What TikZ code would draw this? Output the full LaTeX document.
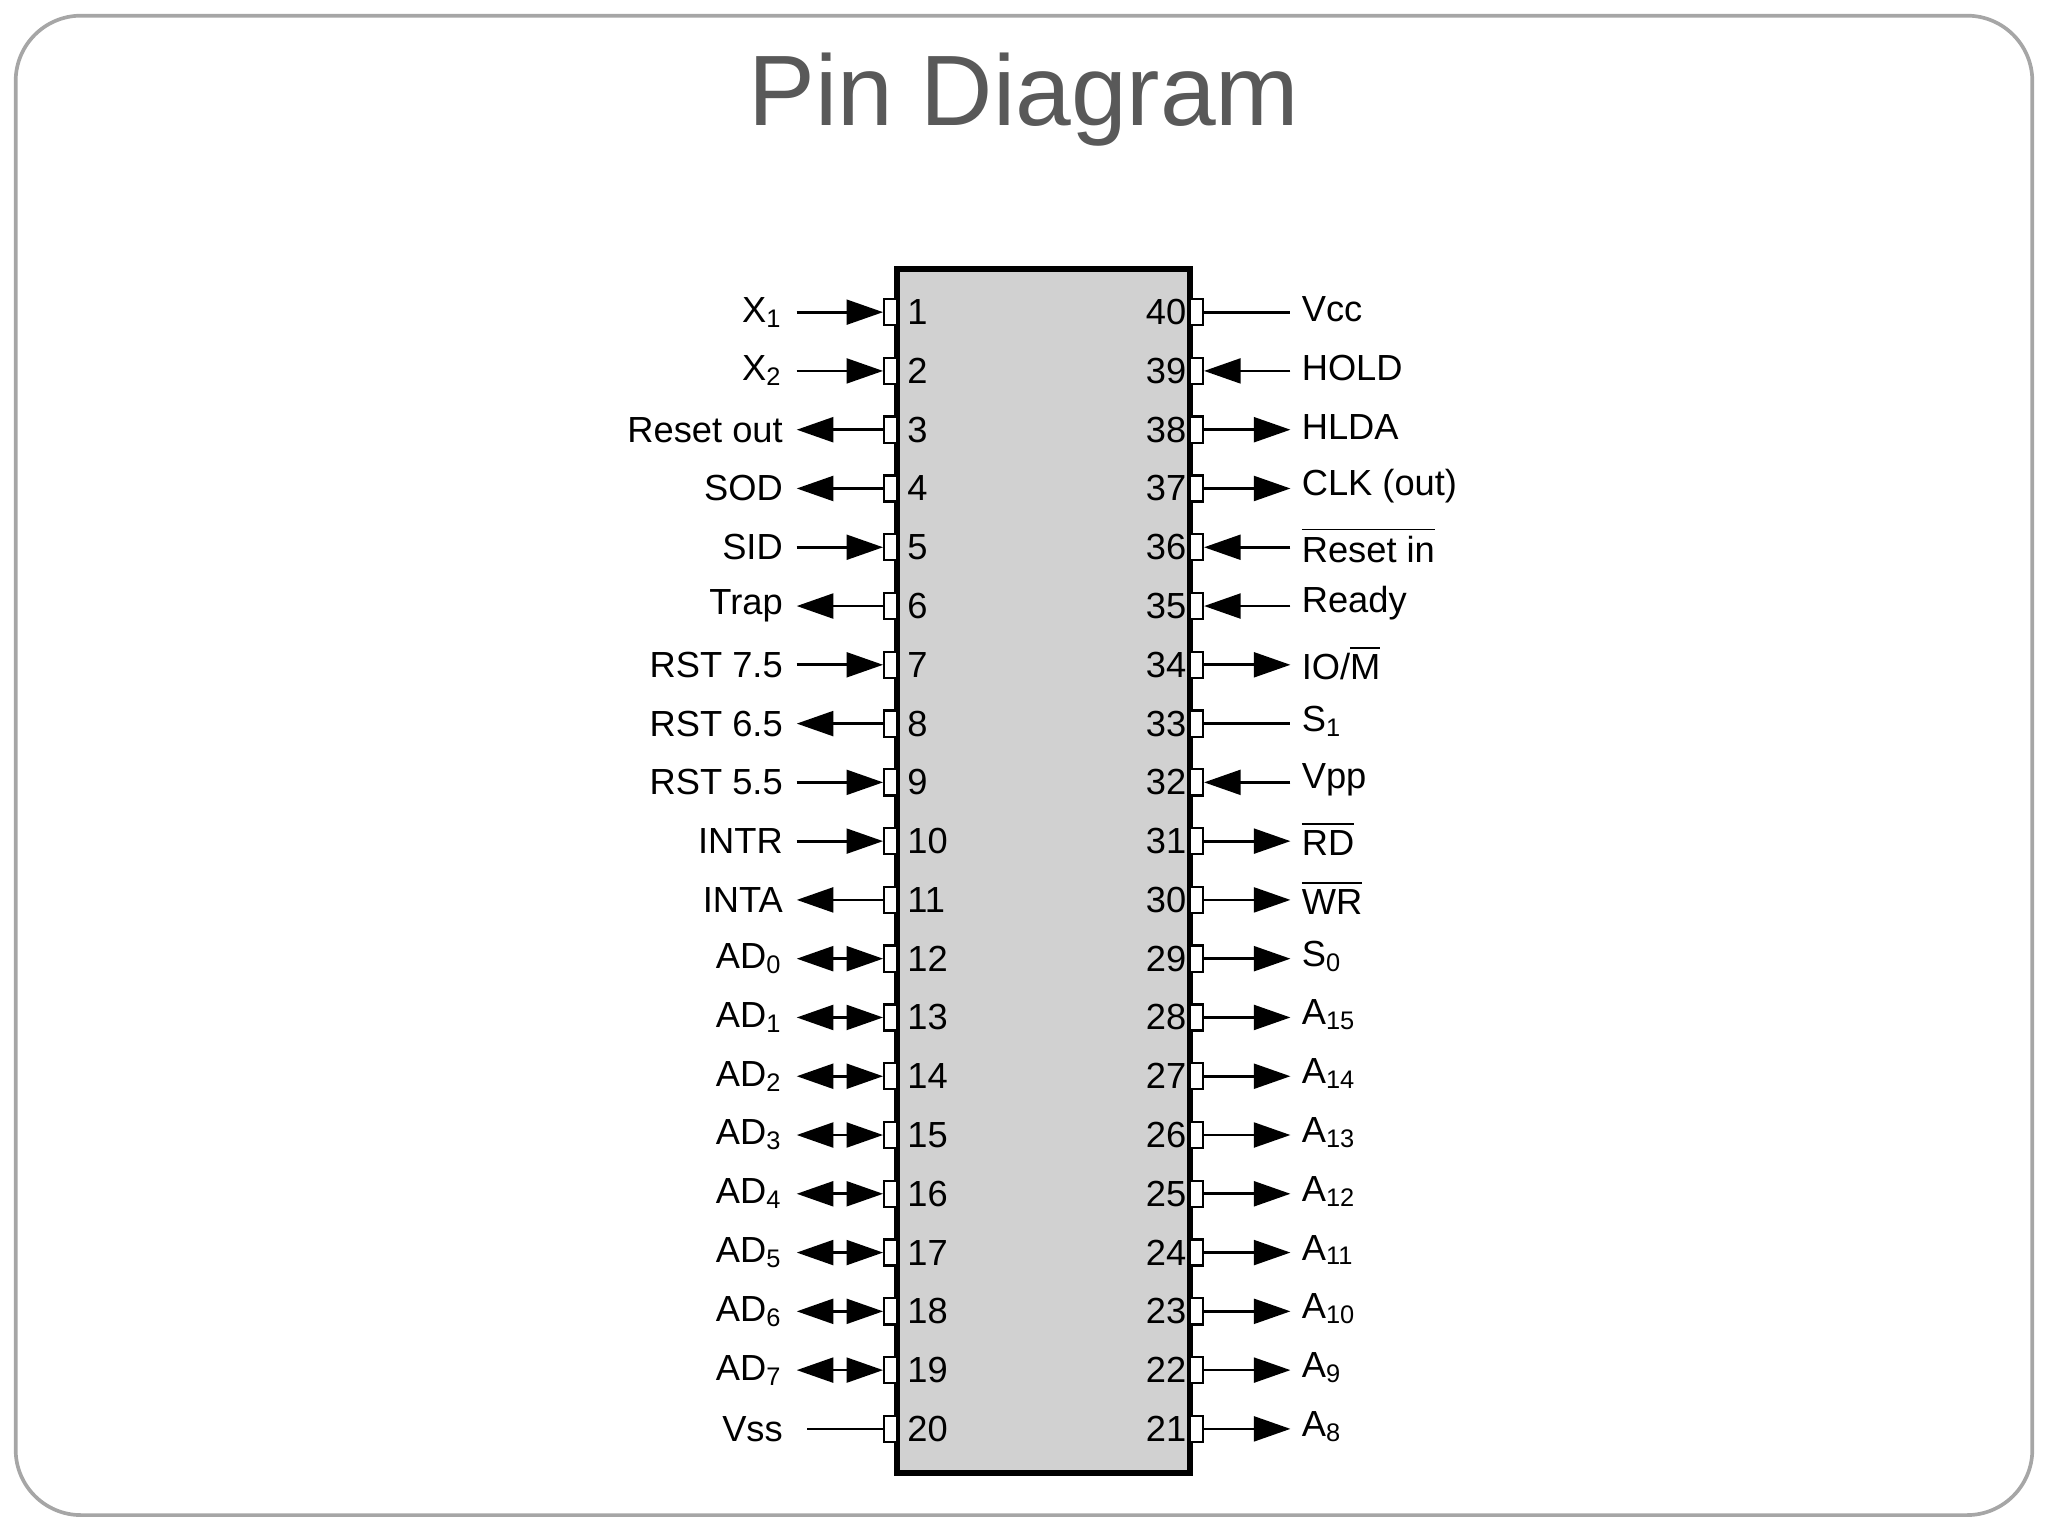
\documentclass[tikz,border=0pt]{standalone}
\usepackage{fontspec}
\setmainfont{Liberation Sans}
\usetikzlibrary{arrows.meta}
\newcommand{\sbs}[1]{\textsubscript{#1}}
\newcommand{\ovl}[1]{$\overline{\mbox{#1}}$}
\begin{document}
\begin{tikzpicture}[x=0.01cm,y=-0.01cm,
  lbl/.style={font=\fontsize{7.9}{9}\selectfont,inner sep=0pt},
  pinbox/.style={draw,line width=0.5pt,fill=white,minimum width=0.1cm,minimum height=0.2cm,inner sep=0pt},
  tip/.style={-{Triangle[length=0.28cm,width=0.19cm]}},
  both/.style={{Triangle[length=0.28cm,width=0.19cm]}-{Triangle[length=0.28cm,width=0.19cm]}},
  wire/.style={line width=0.6pt}]
\useasboundingbox (0,0) rectangle (1568,1176);
\draw[gray!70,line width=0.8pt,rounded corners=0.5cm] (12,12) rectangle (1556,1160);
\node[font=\fontsize{21.8}{26}\selectfont,text=black!65] (title) at (784,76) {Pin Diagram};
\draw[line width=1.3pt,fill=black!18] (687,206) rectangle (911,1128);
\foreach \n/\t/\k in {1/{X\sbs{1}}/i,2/{X\sbs{2}}/i,3/Reset out/o,4/SOD/o,5/SID/i,6/Trap/o,7/RST 7.5/i,8/RST 6.5/o,9/RST 5.5/i,10/INTR/i,11/INTA/o,12/{AD\sbs{0}}/b,13/{AD\sbs{1}}/b,14/{AD\sbs{2}}/b,15/{AD\sbs{3}}/b,16/{AD\sbs{4}}/b,17/{AD\sbs{5}}/b,18/{AD\sbs{6}}/b,19/{AD\sbs{7}}/b,20/Vss/n}{
  \pgfmathsetmacro{\yy}{239+(\n-1)*45}
  \node[pinbox] (lb\n) at (682,\yy) {};
  \node[lbl,anchor=west] (ln\n) at (694,\yy) {\n};
  \node[lbl,anchor=east] (ll\n) at (600,\yy) {\t};
  \coordinate (lw\n) at (610,\yy);
  \coordinate (lv\n) at (618,\yy);
  \if\k i \draw[wire,tip] (lw\n) -- (lb\n.west);\fi
  \if\k o \draw[wire,tip] (lb\n.west) -- (lw\n);\fi
  \if\k b \draw[wire,both] (lw\n) -- (lb\n.west);\fi
  \if\k n \draw[wire] (lv\n) -- (lb\n.west);\fi
}
\foreach \n/\t/\k in {40/Vcc/n,39/HOLD/i,38/HLDA/o,37/CLK (out)/o,36/{\ovl{Reset in}}/i,35/Ready/i,34/{IO/\ovl{M}}/o,33/{S\sbs{1}}/n,32/Vpp/i,31/{\ovl{RD}}/o,30/{\ovl{WR}}/o,29/{S\sbs{0}}/o,28/{A\sbs{15}}/o,27/{A\sbs{14}}/o,26/{A\sbs{13}}/o,25/{A\sbs{12}}/o,24/{A\sbs{11}}/o,23/{A\sbs{10}}/o,22/{A\sbs{9}}/o,21/{A\sbs{8}}/o}{
  \pgfmathsetmacro{\yy}{239+(40-\n)*45}
  \node[pinbox] (rb\n) at (916,\yy) {};
  \node[lbl,anchor=east] (rn\n) at (909,\yy) {\n};
  \node[lbl,anchor=west] (rl\n) at (996,\yy-2) {\t};
  \coordinate (rw\n) at (988,\yy);
  \if\k i \draw[wire,tip] (rw\n) -- (rb\n.east);\fi
  \if\k o \draw[wire,tip] (rb\n.east) -- (rw\n);\fi
  \if\k n \draw[wire] (rb\n.east) -- (rw\n);\fi
}
\end{tikzpicture}
\end{document}
